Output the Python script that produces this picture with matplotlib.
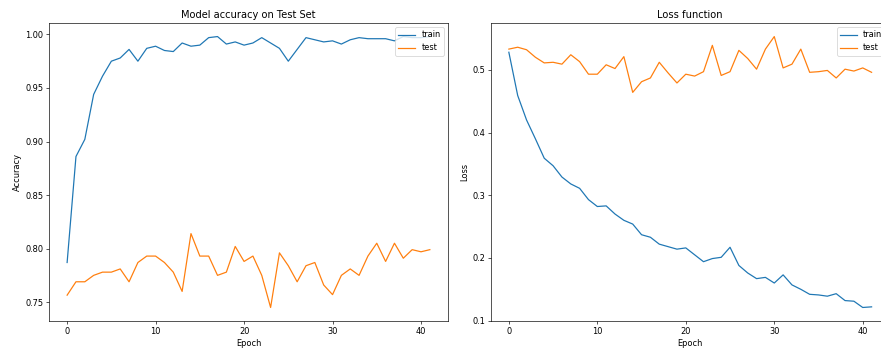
import matplotlib
matplotlib.use('Agg')
import matplotlib.pyplot as plt

epochs = list(range(42))

train_acc = [0.787, 0.886, 0.902, 0.944, 0.961, 0.975, 0.978, 0.986, 0.975, 0.987,
             0.989, 0.985, 0.984, 0.992, 0.989, 0.990, 0.997, 0.998, 0.991, 0.993,
             0.990, 0.992, 0.997, 0.992, 0.987, 0.975, 0.986, 0.997, 0.995, 0.993,
             0.994, 0.991, 0.995, 0.997, 0.996, 0.996, 0.996, 0.994, 0.998, 0.997,
             0.997, 0.998]
test_acc = [0.7565, 0.769, 0.769, 0.775, 0.778, 0.778, 0.781, 0.769, 0.787, 0.793,
            0.793, 0.787, 0.778, 0.760, 0.814, 0.793, 0.793, 0.775, 0.778, 0.802,
            0.788, 0.793, 0.775, 0.745, 0.796, 0.784, 0.769, 0.784, 0.787, 0.766,
            0.757, 0.775, 0.781, 0.775, 0.793, 0.805, 0.788, 0.805, 0.791, 0.799,
            0.797, 0.799]

train_loss = [0.528, 0.459, 0.420, 0.390, 0.359, 0.347, 0.329, 0.318, 0.311, 0.293,
              0.282, 0.283, 0.270, 0.260, 0.254, 0.237, 0.233, 0.222, 0.218, 0.214,
              0.216, 0.205, 0.194, 0.199, 0.201, 0.217, 0.188, 0.176, 0.167, 0.169,
              0.160, 0.173, 0.157, 0.150, 0.142, 0.141, 0.139, 0.143, 0.132, 0.131,
              0.121, 0.122]
test_loss = [0.533, 0.536, 0.532, 0.520, 0.511, 0.512, 0.509, 0.524, 0.513, 0.493,
             0.493, 0.508, 0.502, 0.521, 0.464, 0.481, 0.487, 0.512, 0.495, 0.479,
             0.493, 0.490, 0.497, 0.539, 0.491, 0.497, 0.531, 0.518, 0.501, 0.533,
             0.553, 0.503, 0.509, 0.533, 0.496, 0.497, 0.499, 0.487, 0.501, 0.498,
             0.503, 0.496]

# the original was rendered larger and scaled down, so use a low dpi
dpi = 59
fig = plt.figure(figsize=(881 / dpi, 352 / dpi), dpi=dpi)
ax1 = fig.add_axes([0.0556, 0.088, 0.4529, 0.8466])
ax2 = fig.add_axes([0.557, 0.088, 0.4529, 0.8466])

ax1.plot(epochs, train_acc, label='train')
ax1.plot(epochs, test_acc, label='test')
ax1.set_title('Model accuracy on Test Set')
ax1.set_xlabel('Epoch')
ax1.set_ylabel('Accuracy')
ax1.legend(loc='upper right')

ax2.plot(epochs, train_loss, label='train')
ax2.plot(epochs, test_loss, label='test')
ax2.set_title('Loss function')
ax2.set_xlabel('Epoch')
ax2.set_ylabel('Loss')
ax2.set_yticks([0.1, 0.2, 0.3, 0.4, 0.5])
ax2.legend(loc='upper right')

fig.savefig('out.png', dpi=dpi)
